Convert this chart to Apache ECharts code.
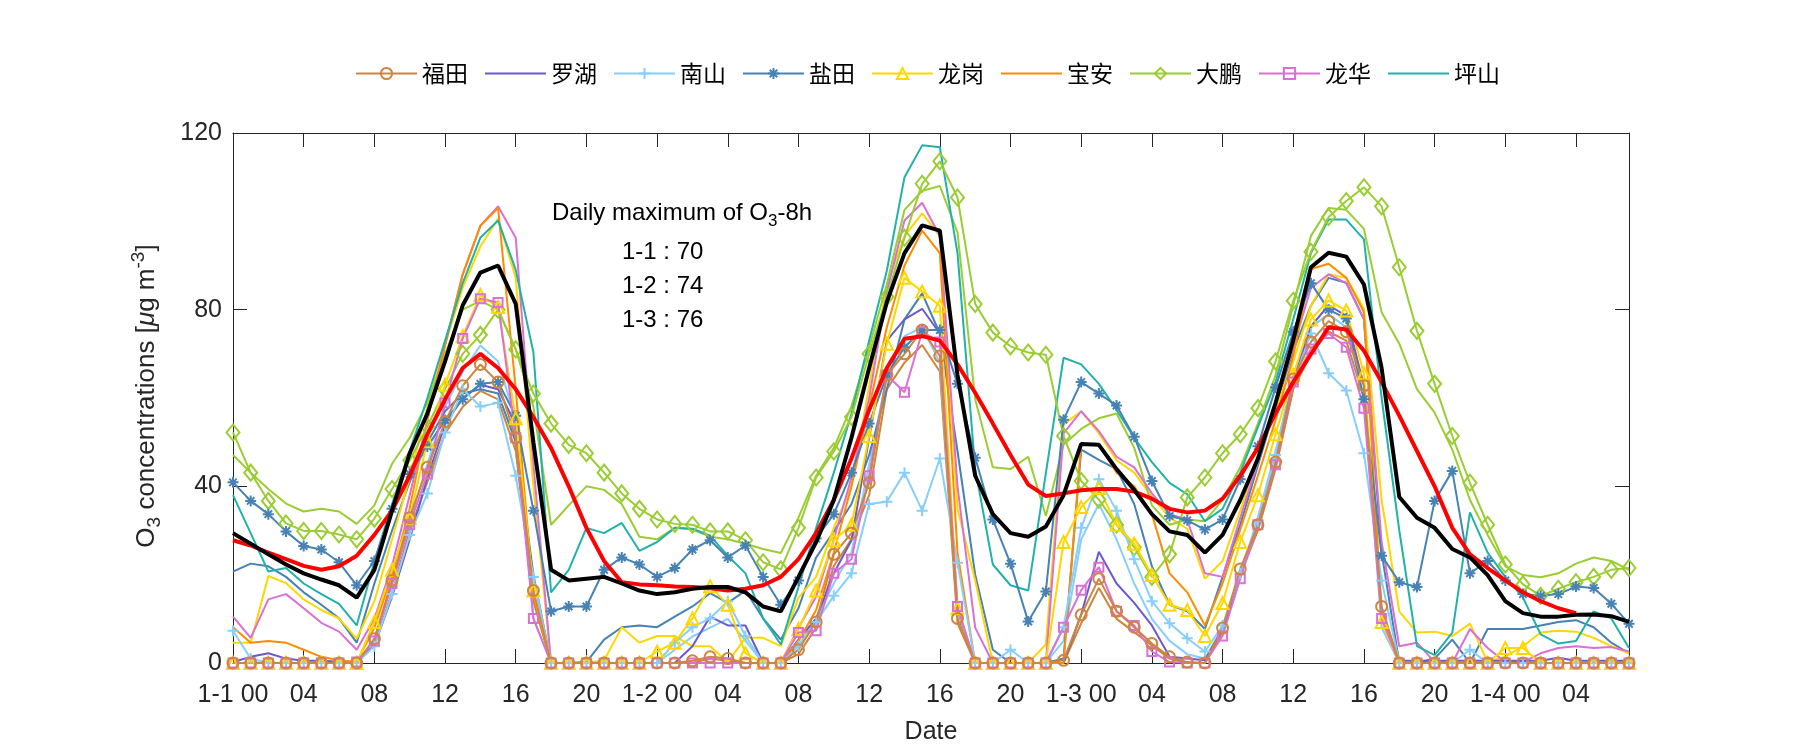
<!DOCTYPE html>
<html>
<head>
<meta charset="utf-8">
<script src="https://cdn.jsdelivr.net/npm/echarts@6/dist/echarts.min.js"></script>
<style>
html,body{margin:0;padding:0;background:#fff;}
#chart{width:1800px;height:750px;}
</style>
</head>
<body>
<div id="chart"></div>
<script>
// hour index 0..79 : 1-1 00 ... 1-4 07
const hours = Array.from({length: 80}, (_, i) => i);

// legend series
const futian   = [0,0,0,0,0,0,0,0,5.5,18.7,32.9,44.3,54.6,62.8,67.6,63.6,51,16.4,0,0,0,0,0,0,0,0,0.5,1.4,1,0,0,0,3,9.3,24.6,29.4,40.8,65.2,70,75.4,69.5,10.1,0,0,0,0,0,0.6,10.9,19.1,11.7,8.1,4.4,1.4,0.2,0,7.9,21.3,31.3,45.5,64.3,72.7,77.4,75,62.8,12.8,0,0,0,0,0,0,0,0,0,0,0,0,0,0];
const luohu    = [0.2,1.4,2.2,1,0.5,0.5,0.3,0.3,4,15,28,42,54,60,63,62,54,15,0,0,0,0,0,0,0,0,3.8,10.5,8.5,8.5,0,0,5.3,10.1,20.3,27.8,51,73,77.8,80.2,74.6,12,0,0,0,0,0,0,11,25.2,18,13.6,8.5,1.4,1,0.6,7.7,20.3,31.3,45.1,63.6,76.2,81,78.6,62.8,10,0.5,0.5,0.5,0.5,0.5,0.5,0.5,0.5,0.5,1.2,0.5,0.5,0.5,0.5];
const nanshan  = [7.3,1,0,0,0,0,0,0,3.8,15.6,29,38.4,52.2,62,58.1,58.9,42.4,19.5,0,0,0,0,0,0,0,4.6,8.1,10.1,14,6.1,0,0,3.8,9.3,15.2,20.3,36,36.5,43.1,34.5,46.3,22.7,0,0,3,0,0,8.1,30.6,41.6,34.5,23.5,14,9,5.6,2.6,8.5,20.3,32.1,47.1,63.6,74.6,65.6,61.7,47.5,18.7,0,0,0,0,3,0,0,0,0,0,0,0,0,0];
const yantian  = [40.9,36.7,33.7,29.8,26.5,25.7,22.8,17.6,23.1,34.9,42.8,49,55,59.7,63.2,63.6,56,34.5,11.7,12.8,12.8,21.1,23.9,22.3,19.5,21.5,25.7,27.8,23.9,26.6,19.5,13.2,18.7,28.2,33.7,43.1,54.2,65.2,71.5,75.4,75.4,63.2,46.5,32.5,22.5,9.4,16.2,55.1,63.6,61,58.3,51.2,41.2,33.3,32.3,30.2,32.5,41.6,49.1,62.4,75,86,80,78,59.7,24.3,18.3,17.2,36.7,43.5,20.3,23.1,18.7,15.6,15.2,15.6,17.3,17,13.4,8.9];
const longgang = [0,0,0,0,0,0,0,0,9.3,21.1,32.9,50.2,63,74,83.3,80.6,55.4,16.4,0,0,0,0,0,0,2.6,4.6,10.1,17.4,13.2,2.2,0,0,7.7,16.4,27.8,31.3,51.4,72.3,87.2,84.1,80.9,12.4,0,0,0,0,0,27.4,35.3,39.6,31.3,27,19.9,13.2,12,6.1,13.6,27.4,38,51.8,65.2,77.8,82.1,79.8,65.6,9.3,0,0,0,0,0,0,3.4,3.4,0,0,0,0,0,0];
const baoan    = [8.1,4.6,5,4.6,3,1.4,0.6,0.2,8,20,35,55,72,88,99,103,62,15,0,0,0,0,0,0,0,0,0,0,0,0,0,0,5,12,25,40,58,76,90,97.9,92.8,25,0,0,0,0,0,0,49.6,49.4,43.1,40,33.7,20.3,16,8.5,18,30.2,42.4,55,69.5,89.2,90.4,87.2,79.4,11.7,0,0,0,0,0,0,0,0,0,0,0,0,0,0];
const dapeng   = [52.2,43.1,36.7,31.6,29.9,29.9,29.1,28,32.7,39.4,45.9,53.5,62,70,74.3,80,71,61,54.2,49.4,47.5,43.1,38.4,34.9,32.5,31.5,31.3,29.8,29.8,27.8,22.8,21.2,30.6,42,47.9,55.7,70,82.9,96.3,108.5,113.6,105.4,81.3,74.8,71.7,70.3,69.8,51.4,41.2,37,31.3,26.2,19.5,24.6,37.5,42,47.5,51.8,57.7,68.3,82,93.1,101,104.6,107.7,103.4,89.6,75.2,63.2,51.4,40.8,31.3,22.3,17.8,15.2,16.8,18.3,19.5,21.1,21.5];
const longhua  = [0,0,0,0,0,0,0,0.2,5,18,31.3,42.8,58.9,73.5,82.5,81.6,51,10.1,0,0,0,0,0,0,0,0,0,0,0,0,0,0,6.9,7.3,20.3,23.5,42.4,65.2,61.3,75,72.7,12.8,0,0,0,0,0,8.1,16.5,21.7,11.7,8.5,2.6,0.2,0,0,6.1,19.1,31.3,44.9,63.6,71.1,74.6,71.5,57.7,10.1,0,0,0,0,0,0,0,0,0,0,0,0,0,0];
const pingshan = [38,29.4,20.7,21.5,18,15.6,13.4,8.5,23,36,48,60,73,86,96.3,100.2,89,70.3,16,21.1,30.6,29.4,31.7,25.4,27.4,30.6,30.4,28.8,24.3,20.3,10.1,4.2,17.2,30.6,43.1,56.5,73,88.8,110,117.2,116.8,92.8,44,22.3,17.6,16.4,43,69.1,67.6,63.2,57.3,51,45.5,40.8,38.2,32.1,34.9,43.1,53.4,63.6,77.8,92.8,100.4,100.4,95.9,60,30,3.8,1.8,6.9,34.1,25,19.5,14.8,6.5,4.4,5,11.7,10.1,3.4];

// second line of each colour (no marker, not in legend)
const futian2   = [0,0,0,0,0,0,0,0,4,16,30,41,52,58,61.6,59.7,48,14,0,0,0,0,0,0,0,0,0,1,0.5,0,0,0,2,8,22,28,38,62,68,72,66,9,0,0,0,0,0,0,9,17,10,7,4,1,0,0,7,20,30,44,62,70,75,73,60,11,0,0,0,0,0,0,0,0,0,0,0,0,0,0];
const nanshan2  = [0,0,0,0,0,0,0,0,5,18,32,45,58,66,71.9,68.3,55,10,0,0,0,0,0,0,0,3,6,8,10,5,0,0,4,10,18,25,45,65,74,76,68,12,0,0,0,0,0,5,28,36,28,18,10,5,2,1,8,20,33,48,65,76,79,76,60,8,0,0,0,0,0,0,0,0,0,0,0,0,0,0];
const yantian2  = [20.7,22.5,21.9,19.5,16,13.2,10.1,4.6,18,30,41,50,57,61,62,61,50,20,0,0,0.2,5.3,8.1,8.5,8.1,10.5,12.8,15.8,13.6,16.4,10.1,5.3,12.4,23.9,29.8,36,47.1,62,77.8,83.7,74.6,48,20,3,0,0,0,1,48.3,46,43.9,36,21.9,13.2,11.7,7.7,19.5,31.3,44.7,58.1,70.7,80.9,87.2,86.1,77.8,25,0,0,1,5.3,0,7.7,7.7,7.7,8.5,9.3,9.7,8.1,4.6,2.2];
const longgang2 = [4.6,4.6,19.7,18.1,14.4,12,10.1,5.5,14,28,42,58,72,85,94.3,100.6,87.2,40,0,0,0,0.6,8.1,4.6,6.1,6.1,3.8,3.8,0.2,5.7,5.7,3.8,14.8,19.5,30.6,40,62.8,85.7,96.7,101.8,96.7,35,18.7,0,0,0,4.2,54,57,52,45.9,43.1,37.6,32.9,30.4,19.1,23.1,34.5,46.3,57.3,68.3,80.9,88,87.2,80.2,36.9,11.7,6.9,7.1,6.1,8.9,0.2,1.4,3.8,6.9,7.3,7.1,5.7,3.8,2.2];
const dapeng2   = [47.1,43.1,39.4,36.1,34.3,34.9,34.3,31.5,35.7,45.1,51,59,70,80,82,80,71,58,31.3,35.7,40,39.2,36,28.6,28,30.6,30.2,28.6,28,27,25.8,24.9,32.9,42.4,48.7,58.1,71.5,85.7,102.6,106.9,108,97.5,59.7,44.3,43.9,46.7,33.3,49.4,53,55.4,56.5,48.7,35.7,31.3,32.5,32.1,36.9,44.3,54.2,65.2,81,96.7,103,102.6,98.3,79.4,72.3,62,56.7,48.3,36.9,29,21.9,19.9,19.4,20.3,22.5,23.9,23.1,21.1];
const longhua2  = [10.5,5.7,14.4,15.6,12.4,9.1,7.1,3,10,22,38,55,72,88,99,103.4,96.3,45,0,0,0,0,0,0,0,0,0,0,0,0,0,0,8,15,28,42,60,84,100.2,104.2,96.7,40,8,0,0,0,0,52,57,52.5,46.7,44.3,38.4,33.7,32.5,20.3,19.5,32.9,45.5,58.9,71.5,84.9,88,86,77.8,27.4,3.8,4.6,0.2,0,7.7,3.4,0.2,0.2,2.2,3.4,3.8,3.4,3.6,2.6];

// all-station mean and its 8-h running mean
const meanO3  = [29.4,27,24.6,22.3,20.3,18.9,17.6,14.8,21.1,34.5,47.5,56.5,68.3,81,88.4,90,81.3,50,21.1,18.7,19.1,19.5,18,16.4,15.6,16,16.8,17.2,17.2,16,12.8,11.7,19.5,27.4,36.9,51,66.8,81.7,92.8,99.1,97.9,65.2,42.4,33.7,29.4,28.6,30.9,38,49.6,49.4,43.9,39.2,33.7,29.8,29,25,29,36.9,46.3,58.9,73.1,89.6,92.9,92,85.7,66.8,37.6,32.9,30.6,25.8,23.9,19.9,14,11.3,10.5,10.5,10.9,11,10.6,9.3];
const mda8    = [27.8,26.6,25,23.5,22,21.1,21.9,24.3,29,34.5,42.4,51.8,59.7,66.8,70,66.8,62,55.7,48.7,40,30.6,23.1,18.3,17.8,17.6,17.3,17.2,16.9,16.4,16.8,17.6,19.5,23.5,29.4,36.9,46.3,57.3,66.8,73.4,74,73,67.6,61.2,54.2,47.1,40.4,37.8,38.4,39.1,39.4,39.4,38.8,37.2,34.9,34.1,34.5,37.2,42.4,48.7,56.5,63.6,69.9,76,75.5,70.7,63.6,56,48,40,30.6,24.6,21.5,18.7,16,14,12.4,11.3];

const yTicks = [0, 40, 80, 120];
const legendNames = ['福田','罗湖','南山','盐田','龙岗','宝安','大鹏','龙华','坪山'];
const dailyMax = [['1-1', 70], ['1-2', 74], ['1-3', 76]];

const pair = arr => arr.map((v, i) => [hours[i], v]);

const PLUS = 'path://M5,0L5,10M0,5L10,5';
const AST = 'path://M5,0L5,10M0,5L10,5M1.6,1.6L8.4,8.4M8.4,1.6L1.6,8.4';

function mk(name, data, color, symbol, size, z, lw) {
  const noMark = !symbol || symbol === 'none';
  return {
    name: name, type: 'line', data: pair(data), z: z,
    symbol: symbol || 'none', symbolSize: size || 10, showAllSymbol: true,
    lineStyle: {color: color, width: lw || 2},
    itemStyle: noMark
      ? {color: 'rgba(0,0,0,0)', borderColor: 'rgba(0,0,0,0)', borderWidth: 0, opacity: 0}
      : {color: 'rgba(0,0,0,0)', borderColor: color, borderWidth: 2},
    emphasis: {disabled: true}, silent: true
  };
}

const series = [
  mk('福田_2', futian2, '#CD853F', 'none', 0, 2),
  mk('南山_2', nanshan2, '#87CEFA', 'none', 0, 2),
  mk('盐田_2', yantian2, '#4682B4', 'none', 0, 2),
  mk('龙岗_2', longgang2, '#FFD700', 'none', 0, 2),
  mk('大鹏_2', dapeng2, '#9ACD32', 'none', 0, 2),
  mk('龙华_2', longhua2, '#DA70D6', 'none', 0, 2),
  mk('罗湖', luohu, '#6A5ACD', 'none', 0, 2),
  mk('宝安', baoan, '#FF8C00', 'none', 0, 2),
  mk('坪山', pingshan, '#20B2AA', 'none', 0, 2),
  mk('大鹏', dapeng, '#9ACD32', 'diamond', [13, 16], 3),
  mk('盐田', yantian, '#4682B4', AST, 11, 3),
  mk('南山', nanshan, '#87CEFA', PLUS, 11, 3),
  mk('龙岗', longgang, '#FFD700', 'triangle', 12, 3),
  mk('龙华', longhua, '#DA70D6', 'rect', 9, 3),
  mk('福田', futian, '#CD853F', 'circle', 11, 3),
  mk('mda8', mda8, '#FF0000', 'none', 0, 4, 4),
  mk('mean', meanO3, '#000000', 'none', 0, 5, 4)
];

const AX = '#262626';
const FONT = 'Liberation Sans';

function hourLabel(v) {
  if (v % 4 !== 0) return '';
  const h = v % 24;
  if (h === 0) return '1-' + (v / 24 + 1) + ' 00';
  return (h < 10 ? '0' : '') + h;
}

const xBase = {
  type: 'value', min: 0, max: 79, interval: 4,
  axisLine: {show: true, onZero: false, lineStyle: {color: AX, width: 1}},
  axisTick: {show: true, inside: true, length: 14, lineStyle: {color: AX, width: 1}},
  splitLine: {show: false}
};
const yBase = {
  type: 'value', min: yTicks[0], max: yTicks[yTicks.length - 1], interval: yTicks[1] - yTicks[0],
  axisLine: {show: true, onZero: false, lineStyle: {color: AX, width: 1}},
  axisTick: {show: true, inside: true, length: 14, lineStyle: {color: AX, width: 1}},
  splitLine: {show: false}
};

const chart = echarts.init(document.getElementById('chart'), null, {renderer: 'canvas'});
chart.setOption({
  animation: false,
  backgroundColor: '#ffffff',
  grid: {left: 233, right: 171, top: 133, bottom: 87, containLabel: false},
  legend: {
    data: legendNames, left: 355, top: 62, padding: 0,
    itemWidth: 61, itemHeight: 14, itemGap: 16,
    textStyle: {fontSize: 23, color: '#000', fontFamily: 'Noto Sans CJK SC'},
    selectedMode: false
  },
  xAxis: [
    Object.assign({}, xBase, {position: 'bottom',
      axisLabel: {show: true, margin: 20, color: AX, fontSize: 25, fontFamily: FONT,
        formatter: hourLabel, showMaxLabel: false}}),
    Object.assign({}, xBase, {position: 'top', axisLabel: {show: false}})
  ],
  yAxis: [
    Object.assign({}, yBase, {position: 'left',
      axisLabel: {show: true, margin: 11, color: AX, fontSize: 25, fontFamily: FONT}}),
    Object.assign({}, yBase, {position: 'right', axisLabel: {show: false}})
  ],
  series: series,
  graphic: [
    {type: 'text', position: [931, 732], silent: true,
      style: {text: 'Date', fill: AX, font: '25px "Liberation Sans"', textAlign: 'center', textVerticalAlign: 'middle'}},
    {type: 'text', position: [147, 396], rotation: Math.PI / 2, silent: true,
      style: {
        text: '{n|O}{sb|3}{n| concentrations [}{it|μ}{n|g m}{sp|-3}{n|]}',
        textAlign: 'center', textVerticalAlign: 'middle',
        rich: {
          n: {fontSize: 26, fontFamily: FONT, fill: AX, color: AX},
          it: {fontSize: 26, fontFamily: FONT, fontStyle: 'italic', fill: AX, color: AX},
          sb: {fontSize: 19, fontFamily: FONT, fill: AX, color: AX, padding: [16, 0, 0, 0]},
          sp: {fontSize: 19, fontFamily: FONT, fill: AX, color: AX, padding: [0, 0, 16, 0]}
        }
      }},
    {type: 'text', position: [552, 213], silent: true,
      style: {
        text: '{n|Daily maximum of O}{sb|3}{n|-8h}',
        textAlign: 'left', textVerticalAlign: 'middle',
        rich: {
          n: {fontSize: 24, fontFamily: FONT, fill: '#000', color: '#000'},
          sb: {fontSize: 17, fontFamily: FONT, fill: '#000', color: '#000', padding: [16, 0, 0, 0]}
        }
      }}
  ].concat(dailyMax.map((d, i) => ({
    type: 'text', position: [622, 252 + i * 34], silent: true,
    style: {text: d[0] + ' : ' + d[1], fill: '#000', font: '24px "Liberation Sans"', textAlign: 'left', textVerticalAlign: 'middle'}
  })))
});
</script>
</body>
</html>
